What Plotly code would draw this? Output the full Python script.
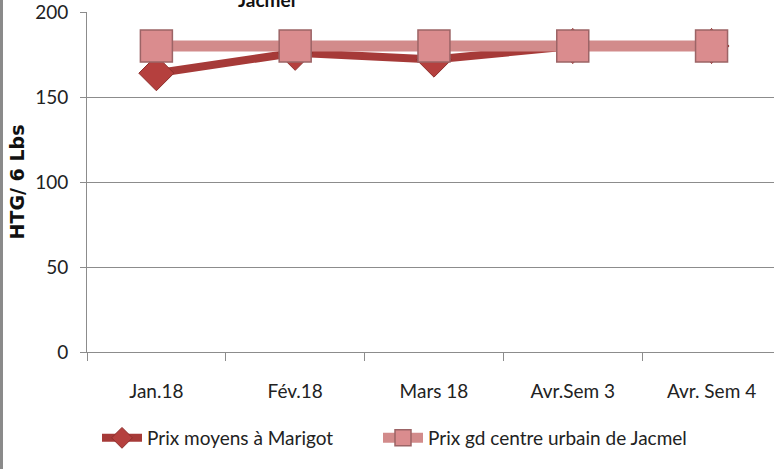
import plotly.graph_objects as go

categories = ["Jan.18", "Fév.18", "Mars 18", "Avr.Sem 3", "Avr. Sem 4"]
marigot = [164, 176, 172, 180, 180]
jacmel = [180, 180, 180, 180, 180]

W, H = 774, 469
ml, mr, mt, mb = 87, 0, 12, 117
pw, ph = W - ml - mr, H - mt - mb

FONT = "Lato, Open Sans, sans-serif"

fig = go.Figure()
fig.add_trace(go.Scatter(
    x=categories, y=marigot, name="Prix moyens à Marigot",
    mode="lines+markers", legend="legend",
    line=dict(color="#A63A38", width=8),
    marker=dict(symbol="diamond", size=27, color="#B5403E",
                line=dict(color="#8E2E2C", width=1)),
))
fig.add_trace(go.Scatter(
    x=categories, y=jacmel, name="Prix gd centre urbain de Jacmel",
    mode="lines+markers", legend="legend2",
    line=dict(color="#D28B8B", width=11),
    marker=dict(symbol="square", size=32, color="#DA8C8E",
                line=dict(color="#9C6466", width=1.5)),
))

leg_common = dict(orientation="h", xanchor="left",
                  y=(352 - 438) / ph, yanchor="middle",
                  font=dict(family=FONT, size=19, color="#222"),
                  itemwidth=40, bgcolor="rgba(0,0,0,0)")

fig.update_layout(
    width=W, height=H,
    margin=dict(l=ml, r=mr, t=mt, b=mb, autoexpand=False),
    paper_bgcolor="white", plot_bgcolor="white",
    font=dict(family=FONT, size=16, color="#222"),
    showlegend=True,
    legend=dict(x=(97 - ml) / pw, **leg_common),
    legend2=dict(x=(378 - ml) / pw, **leg_common),
    xaxis=dict(type="category", range=[-0.5, 4.45], automargin=False,
               showgrid=False, showline=True, linecolor="#8C8C8C", linewidth=1,
               ticks="outside", tickson="boundaries", ticklen=8, tickcolor="#8C8C8C",
               ticklabelstandoff=22,
               tickfont=dict(family=FONT, size=19, color="#222")),
    yaxis=dict(range=[0, 200], tickvals=[0, 50, 100, 150, 200], automargin=False,
               showgrid=True, gridcolor="#8C8C8C", gridwidth=1,
               showline=True, linecolor="#8C8C8C", linewidth=1,
               ticks="outside", ticklen=6, tickcolor="#8C8C8C",
               ticklabelstandoff=8, zeroline=False, ticklabeloverflow="allow",
               tickfont=dict(family=FONT, size=19, color="#222"),
               title=dict(text="<b>HTG/ 6 Lbs</b>", standoff=5,
                          font=dict(family="DejaVu Sans, sans-serif", size=19, color="#111"))),
    annotations=[dict(text="<b>Jacmel</b>", xref="paper", yref="paper",
                      x=(266 - ml) / pw, y=1 + 12 / ph, xanchor="center", yanchor="middle",
                      showarrow=False,
                      font=dict(family=FONT, size=19, color="#111"))],
    shapes=[dict(type="line", xref="paper", yref="paper",
                 x0=-(ml - 1.5) / pw, x1=-(ml - 1.5) / pw, y0=-mb / ph, y1=1 + mt / ph,
                 line=dict(color="#8A8A8A", width=3))],
)

fig.write_html("out.html", config={"displayModeBar": False},
               post_script="document.body.style.margin='0';document.body.style.overflow='hidden';")
